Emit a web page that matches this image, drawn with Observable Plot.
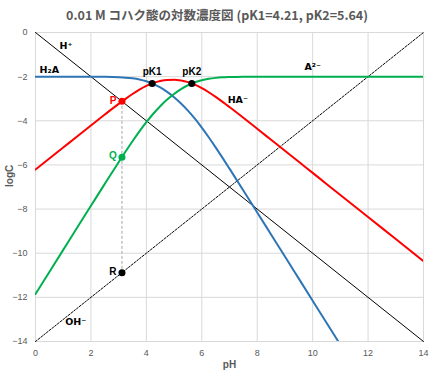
<!DOCTYPE html>
<html><head><meta charset="utf-8">
<script src="https://cdn.jsdelivr.net/npm/d3@7"></script>
<script src="https://cdn.jsdelivr.net/npm/@observablehq/plot@0.6"></script>
<style>
body{margin:0;background:#fff;}
#title{height:26px;line-height:30px;text-align:center;font-family:"Noto Sans CJK JP",sans-serif;font-weight:bold;font-size:12.5px;color:#595959;}
</style></head><body>
<div id="title">0.01 M コハク酸の対数濃度図 (pK1=4.21, pK2=5.64)</div>
<div id="chart"></div>
<script>
const pH = [0,0.5,1,1.5,2,2.5,3,3.25,3.5,3.75,4,4.25,4.5,4.75,5,5.25,5.5,5.75,6,6.25,6.5,6.75,7,7.5,8,8.5,9,9.5,10,10.5,11,12,13,14];
const H2A = [-2.00,-2.00,-2.00,-2.00,-2.003,-2.008,-2.026,-2.045,-2.078,-2.131,-2.212,-2.331,-2.490,-2.691,-2.933,-3.216,-3.539,-3.905,-4.310,-4.746,-5.206,-5.682,-6.169,-7.156,-8.152,-9.151,-10.150,-11.150,-12.150,-13.150,-14.150,null,null,null];
const HA = [-6.21,-5.71,-5.21,-4.71,-4.213,-3.718,-3.236,-3.005,-2.788,-2.591,-2.422,-2.291,-2.200,-2.151,-2.143,-2.176,-2.249,-2.365,-2.520,-2.706,-2.916,-3.142,-3.379,-3.866,-4.362,-4.861,-5.360,-5.860,-6.360,-6.860,-7.360,-8.360,-9.360,-10.360];
const A2 = [-11.85,-10.85,-9.85,-8.85,-7.853,-6.858,-5.876,-5.395,-4.928,-4.481,-4.062,-3.681,-3.340,-3.041,-2.783,-2.566,-2.389,-2.255,-2.160,-2.096,-2.056,-2.032,-2.019,-2.006,-2.002,-2.001,-2.000,-2.000,-2.000,-2.000,-2.000,-2.000,-2.000,-2.000];
const lineX = [0,14];
const Hplus = [0,-14];
const OHminus = [-14,0];
const pKx = [4.21,5.64];
const pKy = [-2.31,-2.31];
const pKlabels = ["pK1","pK2"];
const pointX = 3.12;
const P = -3.12, Q = -5.65, R = -10.88;
const xTicks = [0,2,4,6,8,10,12,14];
const yTicks = [0,-2,-4,-6,-8,-10,-12,-14];

const curve = (ys) => pH.map((x,i)=>({x, y: ys[i]})).filter(d => d.y != null);
const straight = (ys) => lineX.map((x,i)=>({x, y: ys[i]}));

const font = "Liberation Sans, DejaVu Sans, sans-serif";
const labels = [
  {x:1.1, y:-0.6, t:"H⁺", c:"#000"},
  {x:0.5, y:-1.7, t:"H₂A", c:"#000"},
  {x:7.3, y:-3.05, t:"HA⁻", c:"#000"},
  {x:10.0, y:-1.55, t:"A²⁻", c:"#000"},
  {x:1.45, y:-13.1, t:"OH⁻", c:"#000"}
];

const chart = Plot.plot({
  width: 434, height: 352,
  marginLeft: 35, marginRight: 11, marginTop: 6, marginBottom: 37,
  style: {fontFamily: font, background: "#fff"},
  x: {domain: [0,14], ticks: xTicks, label: null},
  y: {domain: [-14,0], ticks: yTicks, label: null},
  marks: [
    Plot.gridX(xTicks, {stroke: "#d9d9d9", strokeOpacity: 1}),
    Plot.gridY(yTicks, {stroke: "#d9d9d9", strokeOpacity: 1}),
    Plot.axisX({ticks: xTicks, tickSize: 0, tickPadding: 8, fontSize: 9, fill: "#595959", label: null}),
    Plot.axisY({ticks: yTicks, tickSize: 0, tickPadding: 8, fontSize: 9, fill: "#595959", label: null}),
    Plot.ruleX([pointX], {y1: P, y2: R, stroke: "#a6a6a6", strokeDasharray: "3,2", strokeWidth: 1}),
    Plot.line(straight(Hplus), {x:"x", y:"y", stroke: "#000", strokeWidth: 1}),
    Plot.line(straight(OHminus), {x:"x", y:"y", stroke: "#000", strokeWidth: 1, strokeDasharray: "2,1.5"}),
    Plot.line(curve(H2A), {x:"x", y:"y", stroke: "#2e75b6", strokeWidth: 2, curve: "monotone-x", clip: true}),
    Plot.line(curve(HA), {x:"x", y:"y", stroke: "#ff0000", strokeWidth: 2, curve: "monotone-x", clip: true}),
    Plot.line(curve(A2), {x:"x", y:"y", stroke: "#00b050", strokeWidth: 2, curve: "monotone-x", clip: true}),
    Plot.dot(pKx.map((x,i)=>({x, y:pKy[i], t:pKlabels[i]})), {x:"x", y:"y", r: 3.5, fill: "#000"}),
    Plot.text(pKx.map((x,i)=>({x, y:pKy[i], t:pKlabels[i]})), {x:"x", y:"y", text:"t", dy:-12, fontSize: 10, fontWeight: "bold", fill: "#000"}),
    Plot.dot([{x:pointX,y:P}], {x:"x", y:"y", r: 3.5, fill: "#ff0000"}),
    Plot.dot([{x:pointX,y:Q}], {x:"x", y:"y", r: 3.5, fill: "#00b050"}),
    Plot.dot([{x:pointX,y:R}], {x:"x", y:"y", r: 3.5, fill: "#000"}),
    Plot.text([{x:pointX,y:P,t:"P",c:"#ff0000"},{x:pointX,y:Q,t:"Q",c:"#00b050"},{x:pointX,y:R,t:"R",c:"#000"}],
      {x:"x", y:"y", text:"t", fill:"c", dx:-9, dy:-1, fontSize: 10, fontWeight:"bold", textAnchor:"middle"}),
    Plot.text(labels, {x:"x", y:"y", text:"t", fill:"c", fontSize: 9.5, fontWeight:"bold", fontFamily: "DejaVu Sans, sans-serif"}),
    Plot.text(["pH"], {frameAnchor:"bottom", dy: 26, fontSize: 10, fontWeight:"bold", fill:"#595959"}),
    Plot.text(["logC"], {frameAnchor:"left", dx: -26, rotate: -90, fontSize: 10, fontWeight:"bold", fill:"#595959"})
  ]
});
document.getElementById("chart").appendChild(chart);
</script>
</body></html>
